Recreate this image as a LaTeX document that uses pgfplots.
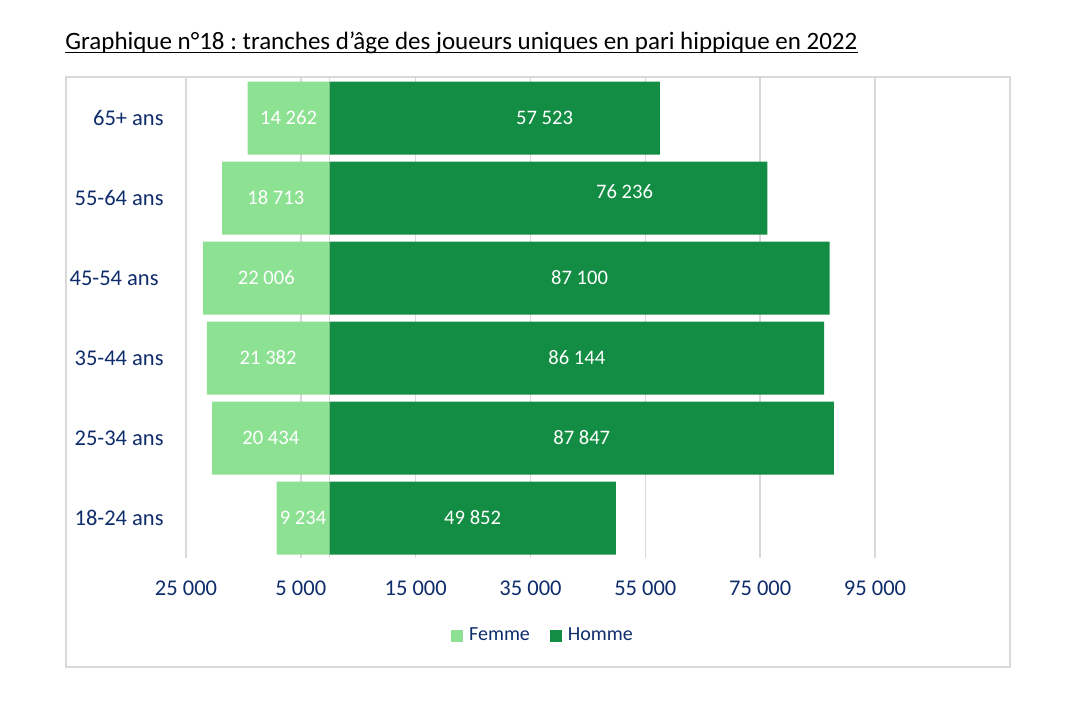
\documentclass[border=0pt]{standalone}
\usepackage{fontspec}
\setmainfont{Carlito}
\usepackage{pgfplots}
\pgfplotsset{compat=1.18}

\definecolor{femme}{HTML}{8DE193}
\definecolor{homme}{HTML}{138D43}
\definecolor{navy}{HTML}{0F2C6B}
\definecolor{gridgray}{HTML}{D9D9D9}

\begin{document}
\frenchspacing
\begin{tikzpicture}
\path[use as bounding box] (0,0) rectangle (535.5pt,354.5pt);
\draw[gridgray, line width=1pt] (33pt,21pt) rectangle (505pt,316pt);

\node[anchor=base west, inner sep=0pt, font=\fontsize{12.5}{14}\selectfont] (t) at (32.5pt,329.85pt)
  {Graphique n°18 : tranches d’âge des joueurs uniques en pari hippique en 2022};
\draw[line width=0.6pt] ([yshift=-1.7pt]t.base west) -- ([yshift=-1.7pt]t.base east);

\begin{axis}[
    at={(93pt,75.5pt)}, anchor=south west,
    scale only axis, width=344.5pt, height=240pt,
    xmin=-25000, xmax=95000,
    ymin=-0.5, ymax=5.5,
    axis line style={draw=none},
    major tick length=0pt,
    scaled x ticks=false,
    xmajorgrids,
    grid style={gridgray, line width=0.8pt},
    xtick={-25000,-5000,15000,35000,55000,75000,95000},
    xticklabels={25 000,5 000,15 000,35 000,55 000,75 000,95 000},
    extra x ticks={0}, extra x tick labels={},
    extra tick style={grid=major},
    ytick={0,1,2,3,4,5},
    yticklabels={18-24 ans,25-34 ans,35-44 ans,45-54 ans\hspace*{2.5pt},55-64 ans,65+ ans},
    /pgf/number format/assume math mode=true,
    ticklabel style={font=\fontsize{11.25}{13}\selectfont, text=navy, inner sep=0pt},
    xticklabel style={anchor=north, yshift=-11.4pt},
    yticklabel style={anchor=east, xshift=-11pt},
    legend columns=2,
    legend image code/.code={\fill[#1] (0pt,-3pt) rectangle (6pt,3pt);},
    legend style={at={(0.5167,-0.1625)}, anchor=center, draw=none, fill=none,
        font=\fontsize{10}{12}\selectfont, text=navy,
        nodes={inner sep=0pt},
        /tikz/every odd column/.append style={column sep=3pt},
        /tikz/every even column/.append style={column sep=10pt}},
]
\addplot[xbar, bar width=36.5pt, bar shift=0pt, fill=femme, draw=none]
  coordinates {(-9234,0) (-20434,1) (-21382,2) (-22006,3) (-18713,4) (-14262,5)};
\addlegendentry{Femme}
\addplot[xbar, bar width=36.5pt, bar shift=0pt, fill=homme, draw=none]
  coordinates {(49852,0) (87847,1) (86144,2) (87100,3) (76236,4) (57523,5)};
\addlegendentry{Homme}

% bar labels
\addplot[draw=none, mark=none, forget plot, nodes near coords,
    point meta=explicit symbolic,
    nodes near coords style={anchor=center, text=white, inner sep=0pt,
        font=\fontsize{10.3}{12}\selectfont}]
  table[row sep=\\, col sep=comma, meta=lab] {
x,y,lab\\
-4617,0,9 234\\
-10217,1,20 434\\
-10691,2,21 382\\
-11003,3,22 006\\
-9356,4,18 713\\
-7131,5,14 262\\
24926,0,49 852\\
43924,1,87 847\\
43072,2,86 144\\
43550,3,87 100\\
51380,4.08,76 236\\
37450,5,57 523\\
};
\end{axis}
\end{tikzpicture}
\end{document}
